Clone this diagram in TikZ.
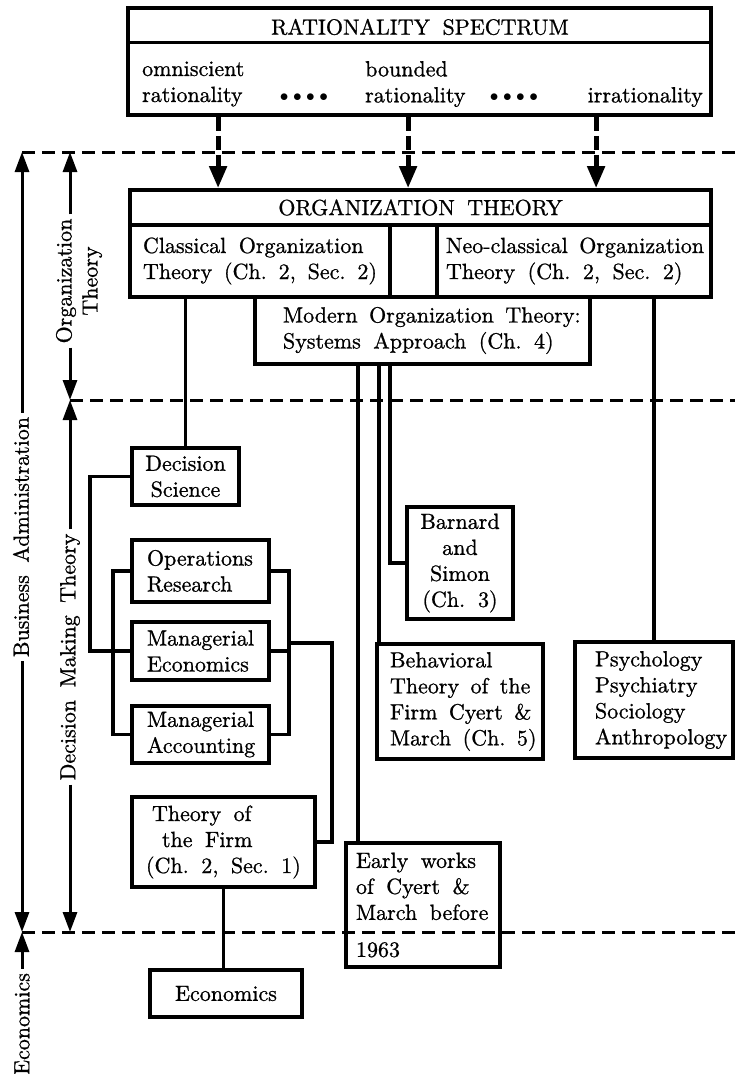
\documentclass[tikz,border=0pt]{standalone}
\usepackage{fontspec}
\setmainfont{lmroman10-regular.otf}[FakeBold=0.9]
\usetikzlibrary{arrows.meta,calc}
\newcommand\diagfont{\fontsize{22}{26}\selectfont\hyphenpenalty=10000\exhyphenpenalty=10000\relax}
\newcommand\wsp{\nobreak\hskip 12.5pt plus 1pt minus 1pt\relax}
\newcommand\bulletrow{{\fontsize{16}{16}\selectfont$\bullet$\hspace{4.5pt}$\bullet$\hspace{4.5pt}$\bullet$\hspace{4.5pt}$\bullet$}}
\begin{document}
\begin{tikzpicture}[x=1pt,y=-1pt, font=\diagfont,
  box/.style={draw, line width=3.8pt, inner ysep=0pt, align=left},
  cbox/.style={draw, line width=3.8pt, inner ysep=0pt, inner xsep=0pt, align=center},
  txt/.style={inner sep=0pt, align=left},
  conn/.style={line width=3.6pt},
  sepline/.style={line width=3pt, dash pattern=on 13pt off 7pt},
  bigarrow/.style={line width=5pt, dash pattern=on 14pt off 5pt, -{Triangle[length=22pt,width=17pt]}},
  axarrow/.style={line width=3pt, -{Triangle[length=20pt,width=14pt]}},
  axlabel/.style={rotate=90, inner sep=4pt, align=center}]
\useasboundingbox (0,0) rectangle (735,1074);

% ---------- Rationality spectrum ----------
\node[draw, line width=3.8pt, minimum width=583pt, minimum height=107pt, inner sep=0pt] (RS) at (419.5,61.5) {};
\node (RStitle) at (420,27) {RATIONALITY\wsp SPECTRUM};
\draw[line width=3pt] ($(RS.north west)+(0,36)$) -- ($(RS.north east)+(0,36)$);
\node[txt, anchor=west] (omni) at (142,84) {omniscient\\rationality};
\node (dots1) at (304,98) {\bulletrow};
\node[txt, anchor=west] (bnd) at (365,84) {bounded\\rationality};
\node (dots2) at (514,98) {\bulletrow};
\node[txt, anchor=east] (irr) at (703,97) {irrationality};

% ---------- Organization theory ----------
\node[cbox, minimum width=581pt, minimum height=35pt] (ORG) at (420.5,207.5) {ORGANIZATION\wsp THEORY};
\node[box, inner xsep=13pt, text width=234pt, minimum height=72pt] (cls) at (260,261) {Classical\wsp Organization\\Theory\wsp (Ch.\wsp 2,\wsp Sec.\wsp 2)};
\node[box, inner xsep=9pt, text width=256pt, minimum height=72pt] (neo) at (574,261) {Neo-classical\wsp Organization\\Theory\wsp (Ch.\wsp 2,\wsp Sec.\wsp 2)};
\node[box, inner xsep=28pt, text width=279pt, minimum height=67pt] (mod) at (422.5,330.5) {Modern\wsp Organization\wsp Theory:\\Systems\wsp Approach\wsp (Ch.\wsp 4)};

% ---------- Decision making ----------
\node[cbox, text width=107pt, minimum height=57pt] (ds) at (185.5,476.5) {Decision\\Science};
\node[box, inner xsep=15pt, text width=107pt, minimum height=62pt] (or) at (200.5,571) {Operations\\Research};
\node[box, inner xsep=15pt, text width=107pt, minimum height=58pt] (me) at (200.5,651) {Managerial\\Economics};
\node[box, inner xsep=15pt, text width=107pt, minimum height=57pt] (ma) at (200.5,734.5) {Managerial\\Accounting};
\node[box, inner xsep=14pt, text width=155pt, minimum height=90pt] (tof) at (223.5,842) {\hspace*{6pt}Theory\wsp of\\\hspace*{16pt}the\wsp Firm\\(Ch.\wsp 2,\wsp Sec.\wsp 1)};
\node[cbox, text width=152pt, minimum height=47pt] (econ) at (226,993.5) {Economics};
\node[cbox, text width=106pt, minimum height=112pt] (bs) at (460,563) {Barnard\\and\\Simon\\(Ch.\wsp 3)};
\node[box, inner xsep=13pt, text width=140pt, minimum height=115pt] (beh) at (460,701.5) {Behavioral\\Theory\wsp of\wsp the\\Firm\wsp Cyert\wsp \&\\March\wsp (Ch.\wsp 5)};
\node[box, inner xsep=20pt, text width=118pt, minimum height=116pt] (psy) at (654,700) {Psychology\\Psychiatry\\Sociology\\Anthropology};
\node[box, inner xsep=10pt, text width=134pt, minimum height=124pt] (early) at (423,905) {Early\wsp works\\of\wsp Cyert\wsp \&\\March\wsp before\\[11pt]1963};

% ---------- arrows from the spectrum ----------
\path ($(RS.south west)+(92,0)$) coordinate (a1)
      ($(RS.south west)+(282,0)$) coordinate (a2)
      ($(RS.south west)+(470,0)$) coordinate (a3);
\draw[bigarrow] (a1) -- (a1 |- ORG.north);
\draw[bigarrow] (a2) -- (a2 |- ORG.north);
\draw[bigarrow] (a3) -- (a3 |- ORG.north);

% ---------- connectors ----------
\draw[conn] (ds.north |- cls.south) -- (ds.north);
\draw[conn] (ds.west) -- ++(-40,0) |- (me.west);
\draw[conn] (or.west) -- ++(-17,0) |- (ma.west);
\draw[conn] (or.east) -- ++(18,0) |- (ma.east);
\draw[conn] (me.east) -- ++(18,0);
\draw[conn] ($(me.east)+(18,-8)$) -- ++(43,0) |- (tof.east);
\path ($(early.north west)+(14,0)$) coordinate (e1)
      ($(beh.north west)+(4,0)$) coordinate (b1)
      ($(bs.west)+(-15,0)$) coordinate (bw);
\draw[conn] (e1 |- mod.south) -- (e1);
\draw[conn] (b1 |- mod.south) -- (b1);
\draw[conn] (bw |- mod.south) -- (bw) -- (bs.west);
\draw[conn] (psy.north |- neo.south) -- (psy.north);
\draw[conn] (tof.south) -- (tof.south |- econ.north);

% ---------- separating dashed lines ----------
\coordinate (s1a) at (22,152);  \coordinate (s1b) at (735,152);
\coordinate (s2a) at (70,400);  \coordinate (s2b) at (735,400);
\coordinate (s3a) at (22,932);  \coordinate (s3b) at (735,932);
\draw[sepline] (s1a) -- (s1b);
\draw[sepline] (s2a) -- (s2b);
\draw[sepline] (s3a) -- (s3b);

% ---------- left axis ----------
\node[axlabel] (BAlab) at (21,537) {Business\wsp Administration};
\node[axlabel] (OTlab) at (79,281) {Organization\\Theory};
\node[axlabel] (DMlab) at (70,657) {Decision\wsp Making\wsp Theory};
\node[axlabel] (EClab) at (22,1024) {Economics};
\draw[axarrow] (s1a |- BAlab.east) -- (s1a);
\draw[axarrow] (s3a |- BAlab.west) -- (s3a);
\draw[axarrow] (s3a |- EClab.east) -- (s3a);
\draw[axarrow] (s2a |- OTlab.east) -- (s2a |- s1a);
\draw[axarrow] (s2a |- OTlab.west) -- (s2a);
\draw[axarrow] (s2a |- DMlab.east) -- (s2a);
\draw[axarrow] (s2a |- DMlab.west) -- (s2a |- s3a);
\end{tikzpicture}
\end{document}
